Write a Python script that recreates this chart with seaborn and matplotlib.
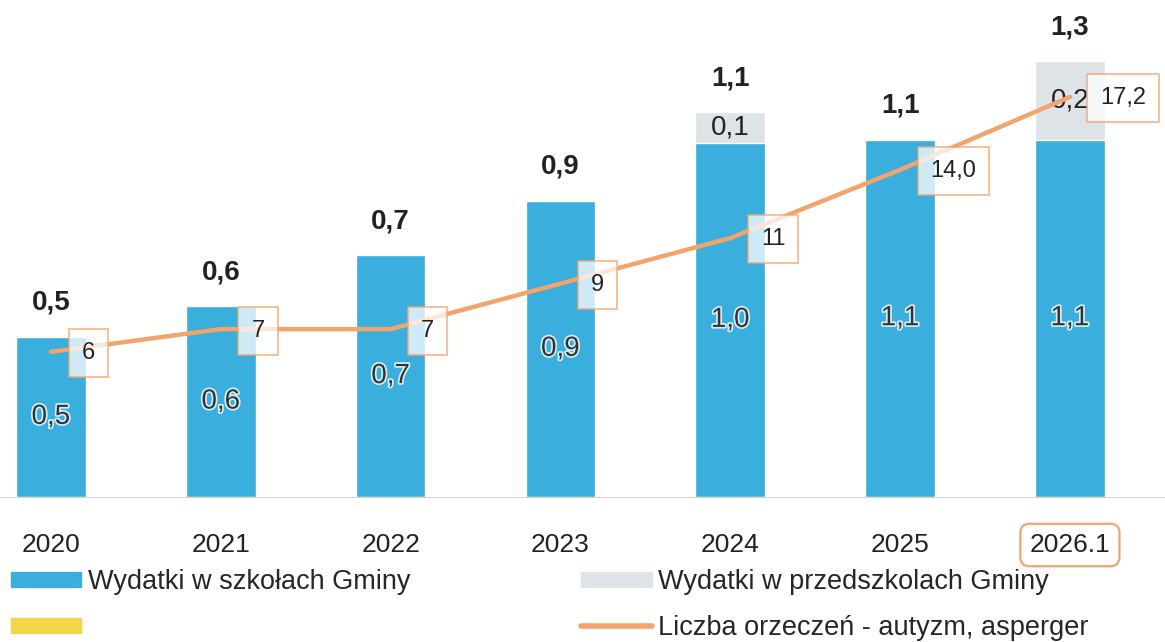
"""Wydatki na uczniów z orzeczeniem - wykres słupkowy z linią."""

import numpy as np
import pandas as pd
import seaborn as sns
import matplotlib.pyplot as plt
import matplotlib.patheffects as pe
from matplotlib.patches import Patch
from matplotlib.lines import Line2D

years = ["2020", "2021", "2022", "2023", "2024", "2025", "2026.1"]
schools = [0.47, 0.56, 0.71, 0.87, 1.04, 1.05, 1.05]
preschools = [0.0, 0.0, 0.0, 0.0, 0.09, 0.0, 0.23]
orders = [6, 7, 7, 9, 11, 14.0, 17.2]
order_labels = ["6", "7", "7", "9", "11", "14,0", "17,2"]

legend_labels = [
    "Wydatki w szkołach Gminy",
    "",
    "Wydatki w przedszkolach Gminy",
    "Liczba orzeczeń - autyzm, asperger",
]

BLUE = "#3aaedc"
GREY = "#dde3e7"
YELLOW = "#f3d54a"
ORANGE = "#f2a46c"


def fmt(v):
    return f"{v:.1f}".replace(".", ",")


sns.set_style("white")
plt.rcParams["font.family"] = ["Liberation Sans", "DejaVu Sans"]

df = pd.DataFrame({"year": years, "schools": schools, "preschools": preschools})
df["total"] = df["schools"] + df["preschools"]

fig = plt.figure(figsize=(11.65, 6.42), dpi=100)
ax = fig.add_axes([0.0, 0.226, 1.0, 0.774])

# stacked bars: total in grey behind, schools in blue on top
sns.barplot(data=df, x="year", y="total", color=GREY, width=0.41,
            saturation=1, ax=ax)
sns.barplot(data=df, x="year", y="schools", color=BLUE, width=0.41,
            saturation=1, ax=ax)

ax.set_xlim(-0.3, 6.56)
ax.set_ylim(0, 1.46)
ax.set_xlabel("")
ax.set_ylabel("")
ax.set_yticks([])
for s in ["top", "left", "right"]:
    ax.spines[s].set_visible(False)
ax.spines["bottom"].set_color("#d4d4d4")
ax.tick_params(axis="x", length=0, pad=26, labelsize=19, labelcolor="#222222")
ax.get_xticklabels()[-1].set_bbox(
    dict(boxstyle="round,pad=0.35", fc="white", ec=ORANGE, lw=1.6))

halo = [pe.withStroke(linewidth=2.5, foreground="#d6ecf5")]
for i, row in df.iterrows():
    ax.text(i, row["schools"] / 2, fmt(row["schools"]), ha="center",
            va="center", fontsize=20, color="#333333", path_effects=halo)
    if row["preschools"] > 0:
        ax.text(i, row["schools"] + row["preschools"] / 2,
                fmt(row["preschools"]), ha="center", va="center",
                fontsize=20, color="#222222")
    ax.text(i, row["total"] + 0.1, fmt(row["total"]), ha="center",
            va="center", fontsize=20, fontweight="bold", color="#222222")

# line on secondary axis
ax2 = ax.twinx()
sns.lineplot(x=np.arange(len(years)), y=orders, color=ORANGE, lw=3.2,
             ax=ax2)
ax2.set_ylim(-0.37, 21.46)
ax2.set_yticks([])
ax2.set_ylabel("")
for s in ax2.spines.values():
    s.set_visible(False)
for i, (v, lab) in enumerate(zip(orders, order_labels)):
    ax2.annotate(lab, (i, v), xytext=(22, -1), textcoords="offset points",
                 ha="left", va="center", fontsize=17, color="#222222",
                 bbox=dict(boxstyle="square,pad=0.55", fc="white", alpha=0.75,
                           ec=ORANGE, lw=1.3))

handles = [
    Patch(color=BLUE),
    Patch(color=YELLOW),
    Patch(color=GREY),
    Line2D([], [], color=ORANGE, lw=4),
]
fig.legend(handles, legend_labels, ncol=2, loc="upper left",
           bbox_to_anchor=(0.0, 0.13), frameon=False, fontsize=19.5,
           handlelength=2.6, handleheight=0.45, handletextpad=0.25,
           labelspacing=0.72, columnspacing=6.3, borderaxespad=0)

plt.savefig("out.png", dpi=100)
